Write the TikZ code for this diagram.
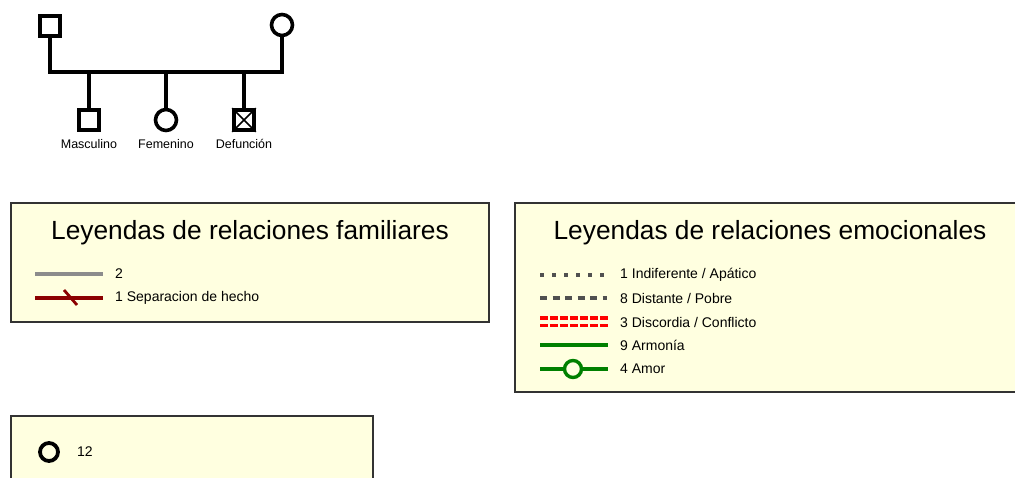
\documentclass[tikz,border=0pt]{standalone}
\usepackage{fontspec}
\setmainfont{Liberation Sans}
\definecolor{boxfill}{HTML}{FFFFE0}
\definecolor{boxline}{HTML}{333333}
\definecolor{sepred}{HTML}{8B0000}
\definecolor{harm}{HTML}{008000}
\definecolor{grayline}{HTML}{8C8C8C}
\definecolor{dotgray}{HTML}{505050}
\tikzset{
  geno/.style={line width=4pt, black},
  male/.style={draw=black, line width=3.6pt, fill=white, minimum size=20pt, inner sep=0pt, rectangle},
  female/.style={draw=black, line width=3.6pt, fill=white, minimum size=21pt, inner sep=0pt, circle},
  glabel/.style={font=\fontsize{12.5}{14}\selectfont, inner sep=0pt},
  legbox/.style={draw=boxline, line width=1.4pt, fill=boxfill},
  title/.style={font=\fontsize{26.3}{30}\selectfont, inner sep=0pt},
  legtext/.style={font=\fontsize{14}{16}\selectfont, inner sep=0pt, anchor=west},
}
\begin{document}
\begin{tikzpicture}[x=1pt,y=-1pt]
\useasboundingbox (0,0) rectangle (1015,478);
% genogram
\node[male] (fa) at (50,26) {};
\node[female] (mo) at (282,25) {};
\coordinate (fl) at (50,72);
\coordinate (ml) at (282,72);
\node[male] (c1) at (89,120) {};
\node[female] (c2) at (166,120) {};
\node[male] (c3) at (244,120) {};
\draw[black, line width=1.6pt] (c3.north west) -- (c3.south east) (c3.north east) -- (c3.south west);
\draw[geno, line cap=rect] (fa.south) -- (fl) -- (ml) -- (mo.south);
\coordinate (d1) at (89,72);
\coordinate (d2) at (166,72);
\coordinate (d3) at (244,72);
\draw[geno] (d1) -- (c1.north);
\draw[geno] (d2) -- (c2.north);
\draw[geno] (d3) -- (c3.north);
\node[glabel] (l1) at (89,144) {Masculino};
\node[glabel] (l2) at (166,144) {Femenino};
\node[glabel] (l3) at (244,144) {Defunción};
% box 1
\draw[legbox] (11,203) rectangle (489,322);
\node[title] (t1) at (250,233) {Leyendas de relaciones familiares};
\coordinate (a1) at (35,274);
\coordinate (b1) at (103,274);
\draw[grayline, line width=3.2pt] (a1) -- (b1);
\node[legtext] (x1) at (115,274) {2};
\coordinate (a2) at (35,298);
\coordinate (b2) at (103,298);
\draw[sepred, line width=3.2pt] (a2) -- (b2);
\coordinate (s1) at (64,290);
\coordinate (s2) at (77,305);
\draw[sepred, line width=2.8pt] (s1) -- (s2);
\node[legtext] (x2) at (115,298) {1 Separacion de hecho};
% box 2
\draw[legbox] (515,203) rectangle (1030,392);
\node[title] (t2) at (770,233) {Leyendas de relaciones emocionales};
\coordinate (e1a) at (540,275);
\coordinate (e1b) at (607,275);
\draw[dotgray, line width=3.5pt, dash pattern=on 4pt off 8pt] (e1a) -- (e1b);
\node[legtext] (y1) at (620,275) {1 Indiferente / Apático};
\coordinate (e2a) at (540,298);
\coordinate (e2b) at (607,298);
\draw[dotgray, line width=3.5pt, dash pattern=on 7pt off 5.5pt] (e2a) -- (e2b);
\node[legtext] (y2) at (620,298) {8 Distante / Pobre};
\coordinate (e3a) at (540,318);
\coordinate (e3b) at (608,318);
\coordinate (e4a) at (540,325.5);
\coordinate (e4b) at (608,325.5);
\draw[red, line width=3.2pt, dash pattern=on 8pt off 2pt] (e3a) -- (e3b);
\draw[red, line width=3.2pt, dash pattern=on 8pt off 2pt] (e4a) -- (e4b);
\node[legtext] (y3) at (620,322) {3 Discordia / Conflicto};
\coordinate (e5a) at (540,345);
\coordinate (e5b) at (608,345);
\draw[harm, line width=3.6pt] (e5a) -- (e5b);
\node[legtext] (y4) at (620,345) {9 Armonía};
\coordinate (e6a) at (540,369);
\coordinate (e6b) at (608,369);
\node[circle, draw=harm, line width=3.4pt, fill=boxfill, minimum size=17pt, inner sep=0pt] (lv) at (573,369) {};
\draw[harm, line width=3.6pt] (e6a) -- (lv.west);
\draw[harm, line width=3.6pt] (lv.east) -- (e6b);
\node[legtext] (y5) at (620,369) {4 Amor};
% box 3
\draw[legbox] (11,416) rectangle (373,490);
\node[circle, draw=black, line width=3.8pt, minimum size=18pt, inner sep=0pt] (o12) at (49,452) {};
\node[legtext] (z1) at (77,452) {12};
\end{tikzpicture}
\end{document}
